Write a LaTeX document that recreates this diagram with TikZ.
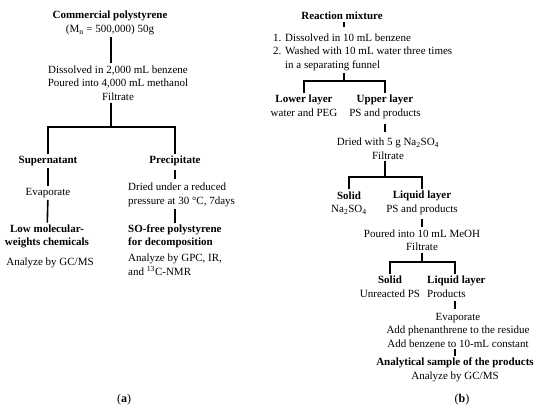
\documentclass[tikz,border=0pt]{standalone}
\usepackage{fontspec}
\setmainfont{Liberation Serif}
\begin{document}
\begin{tikzpicture}[x=1pt,y=-1pt,
    every node/.style={font=\fontsize{11}{13.5}\selectfont, inner sep=2pt},
    head/.style={font=\fontsize{11}{13.5}\selectfont\bfseries},
    link/.style={line width=1.6pt}]
    \useasboundingbox (0,0) rectangle (550,418);
    % (a) polystyrene purification
    \node[align=center] (comm) at (110,23) {\textbf{Commercial polystyrene}\\(M\textsubscript{n} = 500,000) 50g};
    \node[align=center] (dissA) at (118,83) {Dissolved in 2,000 mL benzene\\Poured into 4,000 mL methanol\\Filtrate};
    \coordinate (forkA) at (111,127);
    \node[head] (supern) at (48,161) {Supernatant};
    \node[head] (precip) at (175,161) {Precipitate};
    \node (evapA) at (48,193) {Evaporate};
    \node[head,align=center] (lowmw) at (47,236.5) {Low molecular-\\weights chemicals};
    \node (gcA) at (50,263) {Analyze by GC/MS};
    \node[align=left,anchor=west] (driedA) at (126,195) {Dried under a reduced\\pressure at 30 °C, 7days};
    \node[head,align=left,anchor=west] (sofree) at (126,236.5) {SO-free polystyrene\\for decomposition};
    \node[align=left,anchor=west] (gpc) at (126,264.5) {Analyze by GPC, IR,\\and \textsuperscript{13}C-NMR};
    \node (capA) at (124,400) {\fontsize{12}{14}\selectfont(\textbf{a})};

    \draw[link] (comm.south -| forkA) -- (dissA.north -| forkA);
    \draw[link] (dissA.south -| forkA) -- (forkA);
    \draw[link] (supern.north) |- (forkA) -| (precip.north);
    \draw[link] (supern) -- (evapA);
    \draw[link] (evapA) -- (lowmw);
    \draw[link,shorten <=2pt,shorten >=2pt] (precip.south) -- (precip.south |- driedA.north);
    \draw[link] (driedA.south -| precip) -- (sofree.north -| precip);

    % (b) work-up of the reaction mixture
    \node[head] (react) at (342,16) {Reaction mixture};
    \node[align=left,anchor=west] (steps) at (271,52) {1. Dissolved in 10 mL benzene\\2. Washed with 10 mL water three times\\\hphantom{2. }in a separating funnel};
    \coordinate (forkB) at (344,81);
    \node[align=center] (lower) at (304,105.5) {\textbf{Lower layer}\\water and PEG};
    \node[align=center] (upper) at (385,107) {\textbf{Upper layer}\\PS and products};
    \node[align=center] (driedB) at (388,148.5) {Dried with 5 g Na\textsubscript{2}SO\textsubscript{4}\\Filtrate};
    \coordinate (forkC) at (385,177);
    \node[align=center] (solidA) at (349,203) {\textbf{Solid}\\Na\textsubscript{2}SO\textsubscript{4}};
    \node[align=center] (liquidA) at (422,203) {\textbf{Liquid layer}\\PS and products};
    \node[align=center] (pour) at (422,240) {Poured into 10 mL MeOH\\Filtrate};
    \coordinate (forkD) at (422,262);
    \node[align=center] (solidB) at (390,286.5) {\textbf{Solid}\\Unreacted PS};
    \node[align=left,anchor=west] (liquidB) at (425,286.5) {\textbf{Liquid layer}\\Products};
    \coordinate (trunkE) at (455,300);
    \node[align=center] (evapB) at (458,330) {Evaporate\\Add phenanthrene to the residue\\Add benzene to 10-mL constant};
    \node[align=center] (anal) at (455,370) {\textbf{Analytical sample of the products}\\Analyze by GC/MS};
    \node (capB) at (462,400) {\fontsize{12}{14}\selectfont(\textbf{b})};

    \draw[link,shorten >=4pt] (react.south -| forkB) -- (steps.north -| forkB);
    \draw[link] (steps.south -| forkB) -- (forkB);
    \draw[link] (lower.north) |- (forkB) -| (upper.north);
    \draw[link,shorten <=3pt,shorten >=4pt] (upper.south) -- (upper.south |- driedB.north);
    \draw[link] (driedB.south -| forkC) -- (forkC);
    \draw[link] (solidA.north) |- (forkC) -| (liquidA.north);
    \draw[link,shorten <=2pt] (liquidA) -- (pour);
    \draw[link] (pour.south -| forkD) -- (forkD);
    \draw[link] (solidB.north) |- (forkD) -| (liquidB.north -| trunkE);
    \draw[link,shorten <=2pt,shorten >=2pt] (liquidB.south -| trunkE) -- (evapB.north -| trunkE);
    \draw[link] (evapB.south -| trunkE) -- (anal.north -| trunkE);
\end{tikzpicture}
\end{document}
